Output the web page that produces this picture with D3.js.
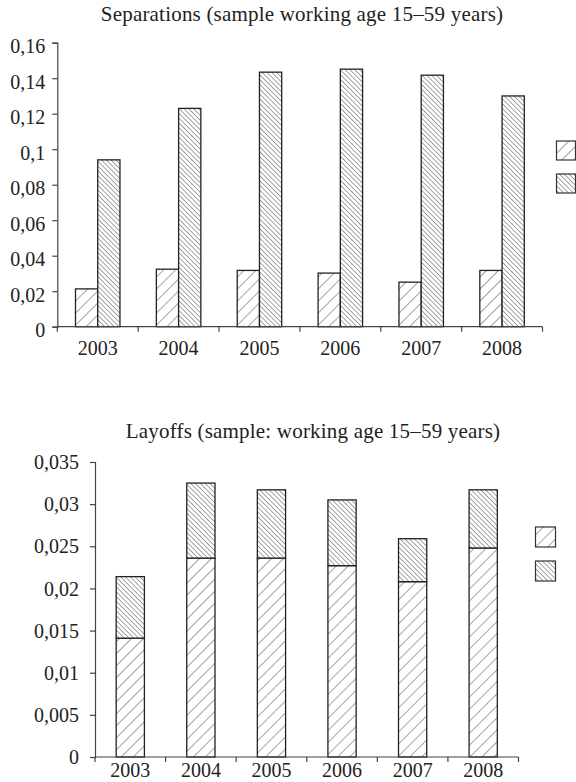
<!DOCTYPE html>
<html>
<head>
	<meta charset="utf-8">
	<title>Separations and layoffs</title>
	<script src="https://d3js.org/d3.v7.min.js"></script>
	<style>
		body { margin: 0; background: #fff; }
		text { font-family: 'Liberation Serif', 'Times New Roman', serif; fill: #222; }
	</style>
</head>
<body>
	<div class="chart"></div>

	<script type="text/javascript">

		// years on the x axis
		const years = ['2003', '2004', '2005', '2006', '2007', '2008']

		// top chart: separations (two bars per year)
		const sepLight = [0.0213, 0.0324, 0.0317, 0.0302, 0.0251, 0.0317]
		const sepDark = [0.0940, 0.1230, 0.1434, 0.1451, 0.1417, 0.1300]
		const sepTicks = [0, 0.02, 0.04, 0.06, 0.08, 0.1, 0.12, 0.14, 0.16]

		// bottom chart: layoffs (stacked)
		const layLight = [0.0141, 0.0236, 0.0236, 0.0227, 0.0208, 0.0248]
		const layDark = [0.0073, 0.0089, 0.0081, 0.0078, 0.0051, 0.0069]
		const layTicks = [0, 0.005, 0.01, 0.015, 0.02, 0.025, 0.03, 0.035]

		var width = 576
		var height = 782

		var svg = d3
			.select('.chart')
			.append('svg')
			.attr('width', width)
			.attr('height', height)

		/**
		 * hatch patterns
		 */
		var defs = svg.append('defs')

		function hatch(id, step, angle) {
			const p = defs
				.append('pattern')
				.attr('id', id)
				.attr('patternUnits', 'userSpaceOnUse')
				.attr('width', step)
				.attr('height', step)
				.attr('patternTransform', `rotate(${angle})`)
			p.append('rect').attr('width', step).attr('height', step).attr('fill', '#fff')
			p.append('line')
				.attr('x1', 0).attr('y1', 0)
				.attr('x2', 0).attr('y2', step)
				.attr('stroke', '#333')
				.attr('stroke-width', 0.9)
		}
		hatch('light', 8.5, 45)
		hatch('dark', 3.4, -45)

		const fmt = (d) => String(+d.toFixed(3)).replace('.', ',')

		/**
		 * shared axis drawing
		 */
		function drawAxes(g, x, y, ticks, labelY, tickDy, tickPad) {
			// y axis
			const ya = g.append('g')
				.attr('transform', `translate(${x.range()[0]}, 0)`)
				.call(d3.axisLeft(y).tickValues(ticks).tickSize(5).tickPadding(tickPad).tickFormat(fmt))
			ya.select('.domain').attr('stroke', '#444').attr('stroke-width', 1.2)
			ya.selectAll('line').attr('stroke', '#444').attr('stroke-width', 1.2)
			ya.selectAll('text')
				.attr('dy', tickDy)
				.style('font-size', '20px')
				.attr('fill', '#222')

			// x axis line and boundary ticks
			const y0 = y(0)
			const half = (x.step() - x.bandwidth()) / 2
			const bounds = years.map((d) => x(d) - half).concat([x(years[years.length - 1]) + x.bandwidth() + half])
			g.append('line')
				.attr('x1', bounds[0]).attr('x2', bounds[bounds.length - 1])
				.attr('y1', y0).attr('y2', y0)
				.attr('stroke', '#444').attr('stroke-width', 1.2)
			g.append('g').selectAll('line')
				.data(bounds)
				.join('line')
				.attr('x1', (d) => d).attr('x2', (d) => d)
				.attr('y1', y0).attr('y2', y0 + 5)
				.attr('stroke', '#444').attr('stroke-width', 1.2)
			g.append('g').selectAll('text')
				.data(years)
				.join('text')
				.attr('x', (d) => x(d) + x.bandwidth() / 2)
				.attr('y', labelY)
				.attr('text-anchor', 'middle')
				.style('font-size', '20px')
				.text((d) => d)
		}

		function legend(g, x0, y0, size, gap) {
			g.append('g').selectAll('rect')
				.data(['light', 'dark'])
				.join('rect')
				.attr('x', x0)
				.attr('y', (d, i) => y0 + i * gap)
				.attr('width', size)
				.attr('height', size)
				.attr('fill', (d) => `url(#${d})`)
				.attr('stroke', '#333')
				.attr('stroke-width', 1.2)
		}

		/**
		 * top chart: separations
		 */
		var topChart = svg.append('g')

		topChart.append('text')
			.attr('x', 302)
			.attr('y', 21)
			.attr('text-anchor', 'middle')
			.style('font-size', '21px')
			.style('letter-spacing', '0.2px')
			.text('Separations (sample working age 15–59 years)')

		const x1 = d3.scaleBand().domain(years).range([57.3, 542.5]).paddingInner(0.45).paddingOuter(0.225)
		const xs = d3.scaleBand().domain(['light', 'dark']).range([0, x1.bandwidth()])
		const y1 = d3.scaleLinear().domain([0, 0.16]).range([326.7, 42.7])

		const sepRows = years.map((d, i) => ({ year: d, light: sepLight[i], dark: sepDark[i] }))

		topChart.append('g').selectAll('g')
			.data(sepRows)
			.join('g')
			.attr('transform', (d) => `translate(${x1(d.year)}, 0)`)
			.selectAll('rect')
			.data((d) => ['light', 'dark'].map((k) => ({ key: k, value: d[k] })))
			.join('rect')
			.attr('x', (d) => xs(d.key))
			.attr('y', (d) => y1(d.value))
			.attr('width', xs.bandwidth())
			.attr('height', (d) => y1(0) - y1(d.value))
			.attr('fill', (d) => `url(#${d.key})`)
			.attr('stroke', '#222')
			.attr('stroke-width', 1.3)

		drawAxes(topChart, x1, y1, sepTicks, 355, '0.5em', 7)
		legend(topChart, 556.5, 141, 19, 33)

		/**
		 * bottom chart: layoffs (stacked)
		 */
		var bottomChart = svg.append('g')

		bottomChart.append('text')
			.attr('x', 313)
			.attr('y', 438)
			.attr('text-anchor', 'middle')
			.style('font-size', '21px')
			.style('letter-spacing', '0.2px')
			.text('Layoffs (sample: working age 15–59 years)')

		const x2 = d3.scaleBand().domain(years).range([95, 518.5]).paddingInner(0.6).paddingOuter(0.3)
		const y2 = d3.scaleLinear().domain([0, 0.035]).range([757, 462])

		const layRows = years.map((d, i) => ({ year: d, light: layLight[i], dark: layDark[i] }))
		const stacked = d3.stack().keys(['light', 'dark'])(layRows)

		bottomChart.append('g').selectAll('g')
			.data(stacked)
			.join('g')
			.attr('fill', (d) => `url(#${d.key})`)
			.selectAll('rect')
			.data((d) => d)
			.join('rect')
			.attr('x', (d) => x2(d.data.year))
			.attr('y', (d) => y2(d[1]))
			.attr('width', x2.bandwidth())
			.attr('height', (d) => y2(d[0]) - y2(d[1]))
			.attr('stroke', '#222')
			.attr('stroke-width', 1.3)

		drawAxes(bottomChart, x2, y2, layTicks, 777, '0.33em', 11)
		legend(bottomChart, 535.5, 527, 20, 34)

	</script>
</body>
</html>
